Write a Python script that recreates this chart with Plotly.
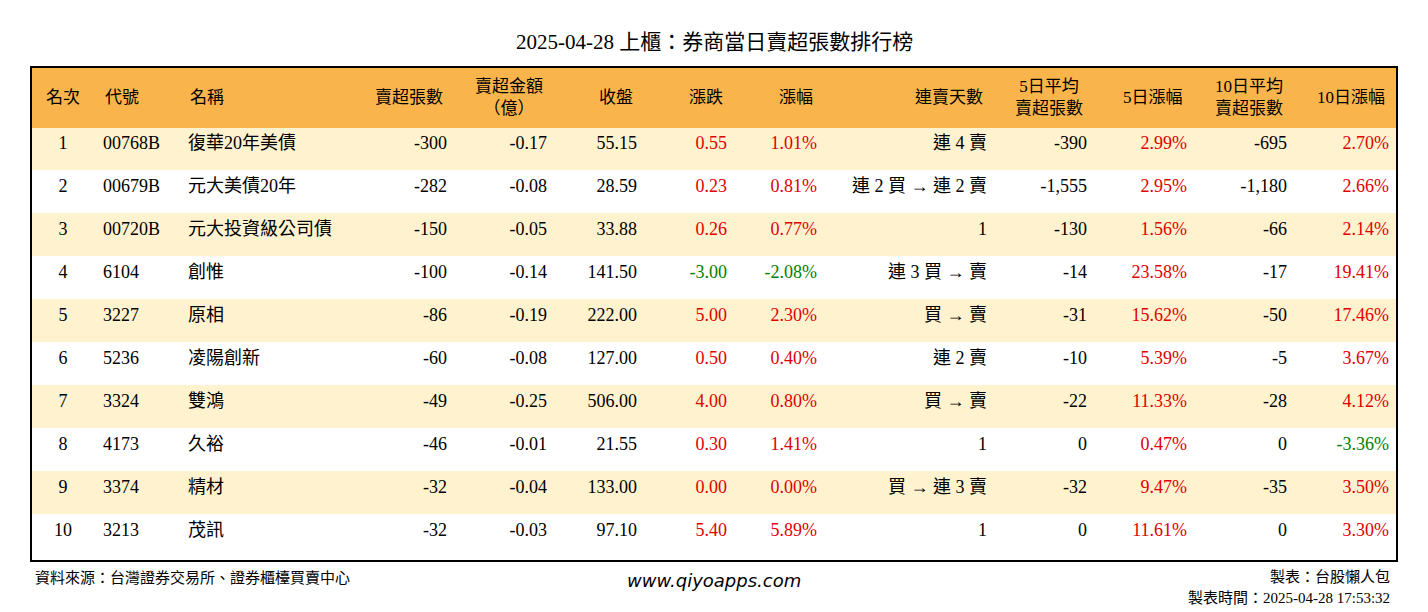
import plotly.graph_objects as go

rank = [1, 2, 3, 4, 5, 6, 7, 8, 9, 10]
code = ["00768B", "00679B", "00720B", "6104", "3227", "5236", "3324", "4173", "3374", "3213"]
name = ["復華20年美債", "元大美債20年", "元大投資級公司債", "創惟", "原相", "凌陽創新", "雙鴻", "久裕", "精材", "茂訊"]
net_sell = ["-300", "-282", "-150", "-100", "-86", "-60", "-49", "-46", "-32", "-32"]
net_amt = ["-0.17", "-0.08", "-0.05", "-0.14", "-0.19", "-0.08", "-0.25", "-0.01", "-0.04", "-0.03"]
close = ["55.15", "28.59", "33.88", "141.50", "222.00", "127.00", "506.00", "21.55", "133.00", "97.10"]
change = ["0.55", "0.23", "0.26", "-3.00", "5.00", "0.50", "4.00", "0.30", "0.00", "5.40"]
pct = ["1.01%", "0.81%", "0.77%", "-2.08%", "2.30%", "0.40%", "0.80%", "1.41%", "0.00%", "5.89%"]
streak = ["連 4 賣", "連 2 買 → 連 2 賣", "1", "連 3 買 → 賣", "買 → 賣", "連 2 賣", "買 → 賣", "1", "買 → 連 3 賣", "1"]
avg5 = ["-390", "-1,555", "-130", "-14", "-31", "-10", "-22", "0", "-32", "0"]
pct5 = ["2.99%", "2.95%", "1.56%", "23.58%", "15.62%", "5.39%", "11.33%", "0.47%", "9.47%", "11.61%"]
avg10 = ["-695", "-1,180", "-66", "-17", "-50", "-5", "-28", "0", "-35", "0"]
pct10 = ["2.70%", "2.66%", "2.14%", "19.41%", "17.46%", "3.67%", "4.12%", "-3.36%", "3.50%", "3.30%"]

headers = ["名次", "代號", "名稱", "賣超張數", "賣超金額<br>（億）", "收盤", "漲跌", "漲幅",
           "連賣天數", "5日平均<br>賣超張數", "5日漲幅", "10日平均<br>賣超張數", "10日漲幅"]
columns = [rank, code, name, net_sell, net_amt, close, change, pct, streak, avg5, pct5, avg10, pct10]
widths = [64, 85, 175, 100, 100, 90, 90, 90, 170, 100, 100, 100, 102]
align = ["center", "left", "left"] + ["right"] * 10

RED, GREEN, BLACK = "#E00000", "#008000", "#000000"
def sign_colors(vals):
    return [GREEN if v.startswith("-") else RED for v in vals]

font_colors = []
for i, col in enumerate(columns):
    if i in (6, 7, 10, 12):
        font_colors.append(sign_colors(col))
    else:
        font_colors.append([BLACK] * len(col))

row_fill = ["#FFF2CF" if i % 2 == 0 else "#FFFFFF" for i in range(len(rank))]

FONT = "Liberation Serif, Noto Sans CJK TC, serif"
# page is offset by the body margin, so work in figure pixels
OFF = 8
W, H = 1428, 612
x0, x1, y0, y1 = 31 - OFF, 1397 - OFF, 67 - OFF, 561 - OFF
HEAD = 60

def px(x):
    return x / W

def py(y):
    return 1 - y / H

fig = go.Figure(go.Table(
    columnwidth=widths,
    domain=dict(x=[px(x0), px(x1)], y=[py(y1), py(y0)]),
    header=dict(values=[""] * len(headers), fill_color="#F9B54C", line_color="#F9B54C",
                height=HEAD),
    cells=dict(values=columns, fill_color=[row_fill] * len(columns),
               line_color=[row_fill] * len(columns),
               align=align, height=43,
               font=dict(family=FONT, size=18, color=font_colors)),
))

# header labels, vertically centred in the header band
left = x0
for h, w, a in zip(headers, widths, align):
    if a == "center":
        xa, xx = "center", left + w / 2
    elif a == "left":
        xa, xx = "left", left + 8
    else:
        xa, xx = "right", left + w - 10
    fig.add_annotation(text=h, x=px(xx), y=py(y0 + HEAD / 2), xref="paper", yref="paper",
                       xanchor=xa, yanchor="middle", align="center", showarrow=False,
                       font=dict(family=FONT, size=17, color="black"))
    left += w

fig.add_shape(type="rect", xref="paper", yref="paper",
              x0=px(x0), x1=px(x1), y0=py(y1), y1=py(y0),
              line=dict(color="black", width=2))

def note(text, x, y, xa, size=15, family=FONT):
    fig.add_annotation(text=text, x=px(x - OFF), y=py(y - OFF), xref="paper", yref="paper",
                       showarrow=False, xanchor=xa, yanchor="middle",
                       font=dict(family=family, size=size, color="black"))

note("2025-04-28 上櫃：券商當日賣超張數排行榜", 714, 42, "center", size=21)
note("資料來源：台灣證券交易所、證券櫃檯買賣中心", 33, 577, "left")
note("<i>www.qiyoapps.com</i>", 714, 580, "center", size=18, family="DejaVu Sans")
note("製表：台股懶人包", 1392, 577, "right")
note("製表時間：2025-04-28 17:53:32", 1392, 598, "right")

fig.update_layout(width=W, height=H, margin=dict(l=0, r=0, t=0, b=0),
                  paper_bgcolor="white")
fig.write_html("out.html")
